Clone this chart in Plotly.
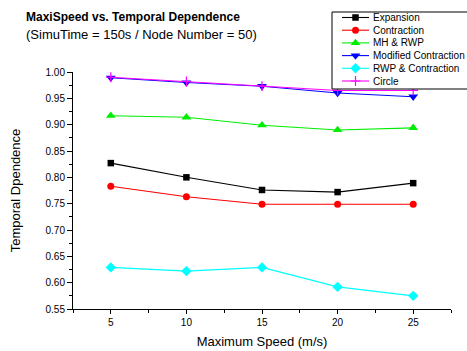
import plotly.graph_objects as go

# Maximum speed (m/s)
speed = [5, 10, 15, 20, 25]

# Temporal dependence per mobility model
expansion = [0.827, 0.800, 0.776, 0.772, 0.789]
contraction = [0.783, 0.763, 0.749, 0.749, 0.749]
mh_rwp = [0.917, 0.914, 0.899, 0.890, 0.894]
modified_contraction = [0.989, 0.980, 0.973, 0.960, 0.953]
rwp_contraction = [0.629, 0.622, 0.629, 0.592, 0.575]
circle = [0.990, 0.982, 0.973, 0.965, 0.965]

y_ticks = [0.55, 0.60, 0.65, 0.70, 0.75, 0.80, 0.85, 0.90, 0.95, 1.00]
x_ticks = [5, 10, 15, 20, 25]

FONT = "Liberation Sans, Arial, sans-serif"
W, H = 467, 351
ML, MB = 73, 42              # left / bottom margins (px)
PAPER_W, PAPER_H = W - ML, H - MB
PLOT_RIGHT, PLOT_TOP = 451, 72  # plot-area edges in page pixels

series = [
    ("Expansion", expansion, "black", "square", 6.5),
    ("Contraction", contraction, "red", "circle", 7),
    ("MH & RWP", mh_rwp, "#00ee00", "triangle-up", 8.5),
    ("Modified Contraction", modified_contraction, "blue", "triangle-down", 8.5),
    ("RWP & Contraction", rwp_contraction, "cyan", "diamond", 8),
    ("Circle", circle, "magenta", "cross-thin", 7),
]


def px_x(x):
    return (x - ML) / PAPER_W


def px_y(y):
    return (PAPER_H - y) / PAPER_H


def marker_for(color, symbol, size):
    return dict(symbol=symbol, size=size, color=color,
                line=dict(color=color, width=1.2 if symbol == "cross-thin" else 0))


fig = go.Figure()
for name, vals, color, symbol, size in series:
    fig.add_trace(go.Scatter(
        x=speed, y=vals, name=name, mode="lines+markers", showlegend=False,
        line=dict(color=color, width=1.1),
        marker=marker_for(color, symbol, size),
    ))

# Legend: drawn on a pixel-space overlay axis pair that sits above the data
LEG_LEFT, LEG_TOP, LEG_BOTTOM = 332, 12, 89
KEY_X0, KEY_X1, TEXT_X = 342, 369, 371
ROW0, ROW_STEP = 17.5, 12.7

fig.add_trace(go.Scatter(
    x=[LEG_LEFT, W + 6, W + 6, LEG_LEFT, LEG_LEFT],
    y=[LEG_TOP, LEG_TOP, LEG_BOTTOM, LEG_BOTTOM, LEG_TOP],
    mode="lines", fill="toself", fillcolor="white",
    line=dict(color="black", width=1), showlegend=False,
    xaxis="x2", yaxis="y2", hoverinfo="skip",
))

annotations = []
for i, (name, vals, color, symbol, size) in enumerate(series):
    cy = ROW0 + i * ROW_STEP
    fig.add_trace(go.Scatter(
        x=[KEY_X0, KEY_X1], y=[cy, cy], mode="lines", showlegend=False,
        line=dict(color=color, width=1.1), xaxis="x2", yaxis="y2", hoverinfo="skip",
    ))
    fig.add_trace(go.Scatter(
        x=[(KEY_X0 + KEY_X1) / 2], y=[cy], mode="markers", showlegend=False,
        marker=marker_for(color, symbol, size), xaxis="x2", yaxis="y2", hoverinfo="skip",
    ))
    annotations.append(dict(
        text=name, xref="x2", yref="y2", x=TEXT_X, y=cy,
        xanchor="left", yanchor="middle", showarrow=False,
        font=dict(family=FONT, size=10, color="black"),
    ))

annotations += [
    dict(text="<b>MaxiSpeed vs. Temporal Dependence</b>", xref="paper", yref="paper",
         x=px_x(24), y=px_y(17), xanchor="left", yanchor="middle", showarrow=False,
         font=dict(family=FONT, size=12)),
    dict(text="(SimuTime = 150s / Node Number = 50)", xref="paper", yref="paper",
         x=px_x(24), y=px_y(35), xanchor="left", yanchor="middle", showarrow=False,
         font=dict(family=FONT, size=13)),
]

fig.update_layout(
    width=W, height=H,
    margin=dict(l=ML, r=0, t=0, b=MB, autoexpand=False),
    paper_bgcolor="white", plot_bgcolor="rgba(0,0,0,0)",
    font=dict(family=FONT, color="black", size=10),
    showlegend=False,
    xaxis=dict(
        domain=[0, px_x(PLOT_RIGHT)],
        range=[2.5, 27.5], tickvals=x_ticks, ticktext=[str(v) for v in x_ticks],
        showline=True, linecolor="black", linewidth=1, mirror=False,
        ticks="outside", ticklen=4, tickcolor="black", showgrid=False, zeroline=False,
        minor=dict(tickvals=[2.5, 7.5, 12.5, 17.5, 22.5, 27.5], ticks="outside",
                   ticklen=3, tickcolor="black", showgrid=False),
        tickfont=dict(size=10),
        title=dict(text="Maximum Speed (m/s)", font=dict(size=13), standoff=9),
    ),
    yaxis=dict(
        domain=[0, px_y(PLOT_TOP)],
        range=[0.55, 1.0], tickvals=y_ticks, ticktext=[f"{v:.2f}" for v in y_ticks],
        showline=True, linecolor="black", linewidth=1, mirror=False,
        ticks="outside", ticklen=5, tickcolor="black", showgrid=False, zeroline=False,
        minor=dict(tickvals=[0.575, 0.625, 0.675, 0.725, 0.775, 0.825, 0.875, 0.925, 0.975],
                   ticks="outside", ticklen=3, tickcolor="black", showgrid=False),
        tickfont=dict(size=10),
        title=dict(text="Temporal Dpendence", font=dict(size=13), standoff=21),
    ),
    xaxis2=dict(domain=[0, 1], range=[ML, W], visible=False, fixedrange=True),
    yaxis2=dict(domain=[0, 1], range=[PAPER_H, 0], visible=False, fixedrange=True,
                anchor="x2"),
    annotations=annotations,
)

fig.write_html("out.html")
